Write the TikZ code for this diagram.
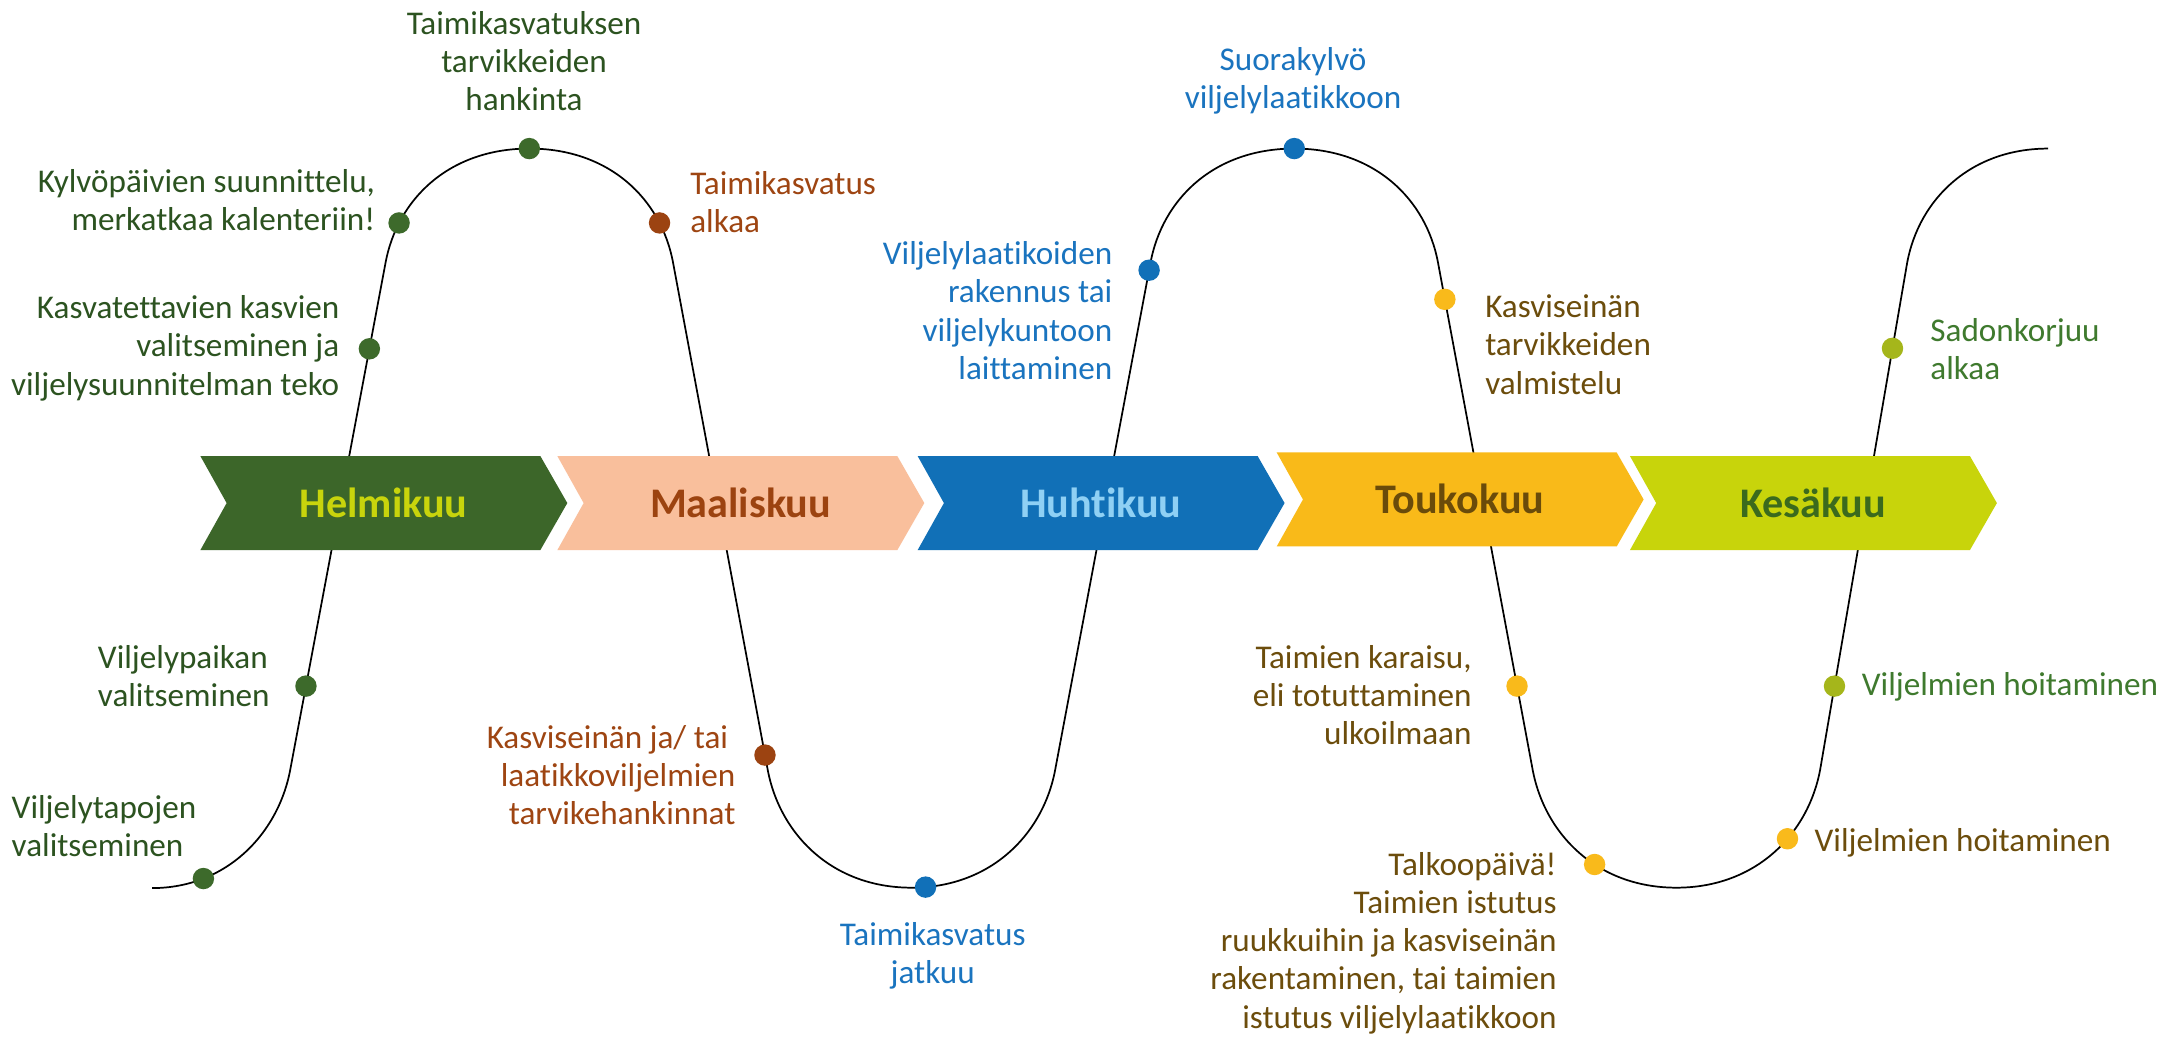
\documentclass[tikz,border=0pt]{standalone}
\usepackage{fontspec}
\setmainfont{Carlito}[Ligatures=NoCommon]
\definecolor{gtxt}{HTML}{2C5320}
\definecolor{gdot}{HTML}{3D6A2B}
\definecolor{rtxt}{HTML}{9E4512}
\definecolor{rdot}{HTML}{9C4311}
\definecolor{btxt}{HTML}{1A74BF}
\definecolor{bdot}{HTML}{1170B8}
\definecolor{ytxt}{HTML}{6C4D0C}
\definecolor{ydot}{HTML}{F9BA1B}
\definecolor{ktxt}{HTML}{3F7A2E}
\definecolor{kdot}{HTML}{A5B61B}
\definecolor{c1fill}{HTML}{3C6629}
\definecolor{c1text}{HTML}{C8D40C}
\definecolor{c2fill}{HTML}{F9BF9C}
\definecolor{c2text}{HTML}{9C4310}
\definecolor{c3fill}{HTML}{1170B7}
\definecolor{c3text}{HTML}{8FD0F4}
\definecolor{c4fill}{HTML}{F9BA19}
\definecolor{c4text}{HTML}{6A4B0A}
\definecolor{c5fill}{HTML}{C8D40B}
\definecolor{c5text}{HTML}{3B6A1D}
\newcommand\chevronshape[3]{\fill[#3] (#1,#2) -- ++(246,0) -- ++(19.5,34) -- ++(-19.5,34) -- ++(-246,0) -- ++(19,-34) -- cycle;}
\begin{document}
\begin{tikzpicture}[x=1pt,y=-1pt,
  wave/.style={draw=black, line width=1.25pt},
  mdot/.style={circle, fill=#1, minimum size=15.5pt, inner sep=0pt},
  lab/.style={font=\fontsize{24}{27.6}\selectfont, inner sep=0pt, text=#1},
  mon/.style={font=\bfseries\fontsize{30.5}{33}\selectfont, inner sep=0pt, anchor=base, text=#1}]
\useasboundingbox[fill=white] (0,0) rectangle (1568,750.36);

% wave
\draw[wave] (110,642.6) .. controls (164,642.6) and (201.4,603) .. node[mdot=gdot,pos=0.25](d1){} (210,557)
 -- node[mdot=gdot,pos=0.165](d2){} node[mdot=gdot,pos=0.83](d3){} (279,190)
 .. controls (287.6,144) and (325,107.5) .. node[mdot=gdot,pos=0.22](d4){} (383,107.5) node[mdot=gdot](d5){}
 .. controls (441,107.5) and (478.4,144) .. node[mdot=rdot,pos=0.78](d6){} (487,190)
 -- node[mdot=rdot,pos=0.971](d7){} (555.5,557)
 .. controls (564.1,603) and (601.5,642.3) .. (659.5,642.3)
 .. controls (717.5,642.3) and (754.9,603) .. node[mdot=bdot,pos=0.06](d8){} (763.5,557)
 -- node[mdot=bdot,pos=0.985](d9){} (832.5,190)
 .. controls (841.1,144) and (878.5,107.5) .. (936.5,107.5) node[mdot=bdot](d10){}
 .. controls (994.5,107.5) and (1031.9,144) .. (1040.5,190)
 -- node[mdot=ydot,pos=0.0725](d11){} node[mdot=ydot,pos=0.835](d12){} (1109,557)
 .. controls (1117.6,603) and (1155,642.3) .. node[mdot=ydot,pos=0.6](d13){} (1213,642.3)
 .. controls (1271,642.3) and (1308.4,603) .. node[mdot=ydot,pos=0.6](d14){} (1317,557)
 -- node[mdot=kdot,pos=0.165](d15){} node[mdot=kdot,pos=0.831](d16){} (1380,190)
 .. controls (1388.6,144) and (1426,107.5) .. (1482,107.5);

% chevrons
\chevronshape{145}{330}{c1fill}
\chevronshape{403.3}{330}{c2fill}
\chevronshape{664}{330}{c3fill}
\chevronshape{923.8}{327.4}{c4fill}
\chevronshape{1179.4}{330}{c5fill}
\node[mon=c1text] (m1) at (277.5,374.3) {Helmikuu};
\node[mon=c2text] (m2) at (535.8,374.3) {Maaliskuu};
\node[mon=c3text] (m3) at (796.5,374.3) {Huhtikuu};
\node[mon=c4text] (m4) at (1056.3,371.7) {Toukokuu};
\node[mon=c5text] (m5) at (1311.9,374.3) {Kesäkuu};

% labels
\node[lab=gtxt, align=left, anchor=west] (t1) at (8.3,597.5) {Viljelytapojen\\valitseminen};
\node[lab=gtxt, align=left, anchor=west] (t2) at (70.7,489.2) {Viljelypaikan\\valitseminen};
\node[lab=gtxt, align=right, anchor=east] (t3) at (245.7,252) {Kasvatettavien kasvien\\valitseminen ja\\viljelysuunnitelman teko};
\node[lab=gtxt, align=right, anchor=east] (t4) at (271.6,144.6) {Kylvöpäivien suunnittelu,\\merkatkaa kalenteriin!};
\node[lab=gtxt, align=center] (t5) at (379.2,44.3) {Taimikasvatuksen\\tarvikkeiden\\hankinta};
\node[lab=rtxt, align=left, anchor=west] (t6) at (499.3,146) {Taimikasvatus\\alkaa};
\node[lab=rtxt, align=right, anchor=east] (t7) at (532.3,560.8) {Kasviseinän ja/ tai\hspace*{5.3pt}\\laatikkoviljelmien\\tarvikehankinnat};
\node[lab=btxt, align=center] (t8) at (674.9,691.5) {Taimikasvatus\\jatkuu};
\node[lab=btxt, align=right, anchor=east] (t9) at (805,224.75) {Viljelylaatikoiden\\rakennus tai\\viljelykuntoon\\laittaminen};
\node[lab=btxt, align=center] (t10) at (935.6,58.2) {Suorakylvö\\viljelylaatikkoon};
\node[lab=ytxt, align=left, anchor=west] (t11) at (1074.5,249.4) {Kasviseinän\\tarvikkeiden\\valmistelu};
\node[lab=ytxt, align=right, anchor=east] (t12) at (1065,502.9) {Taimien karaisu,\\eli totuttaminen\\ulkoilmaan};
\node[lab=ytxt, align=right, anchor=east] (t13) at (1126.5,682.4) {Talkoopäivä!\\Taimien istutus\\ruukkuihin ja kasviseinän\\rakentaminen, tai taimien\\istutus viljelylaatikkoon};
\node[lab=ytxt, anchor=west] (t14) at (1312.8,610.2) {Viljelmien hoitaminen};
\node[lab=ktxt, anchor=west] (t15) at (1347,496.9) {Viljelmien hoitaminen};
\node[lab=ktxt, align=left, anchor=west] (t16) at (1396.6,252.5) {Sadonkorjuu\\alkaa};
\end{tikzpicture}
\end{document}
